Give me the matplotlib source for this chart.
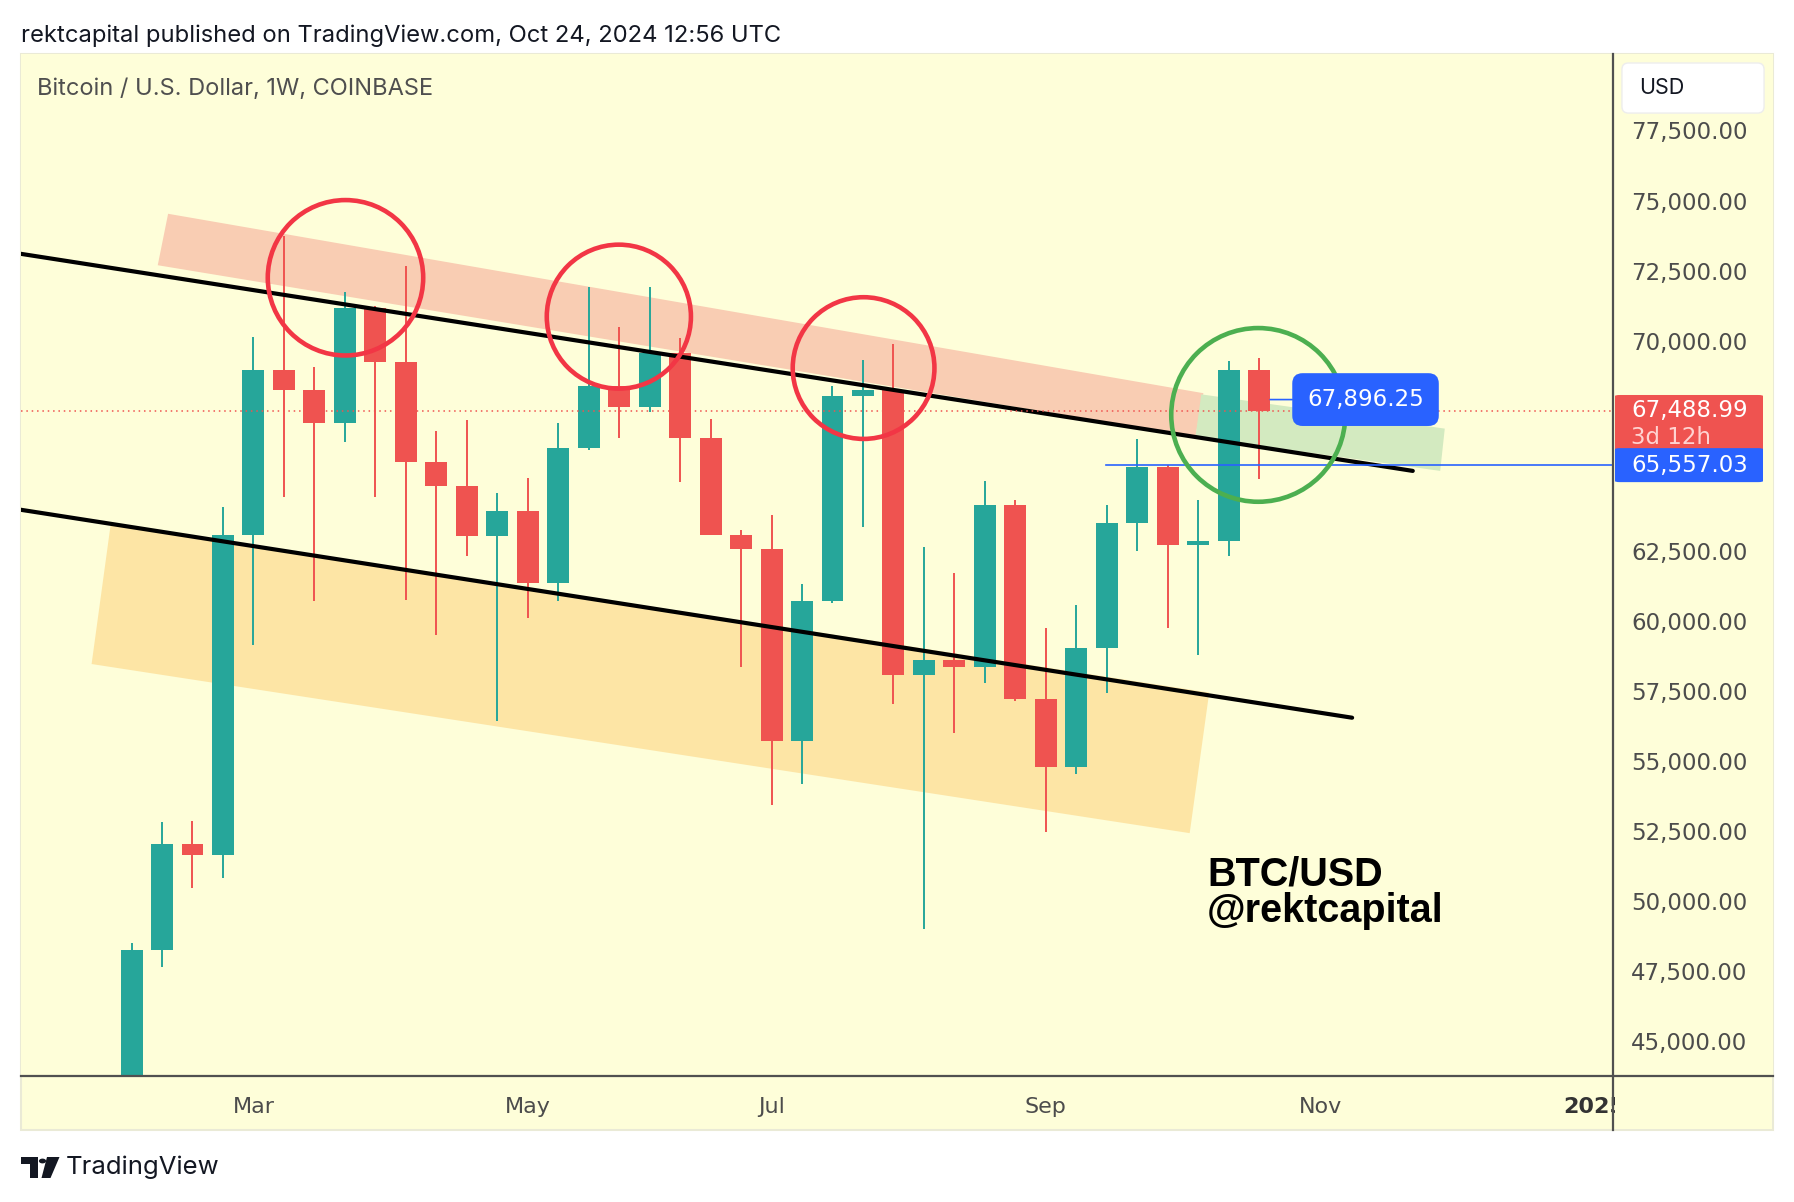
import numpy as np
import matplotlib.pyplot as plt
import matplotlib.transforms as mtransforms
from matplotlib.patches import Rectangle, Polygon, Ellipse, FancyBboxPatch, Circle
from matplotlib.lines import Line2D

W, H = 1794, 1202
BG = "#FEFED9"
UP = "#26A69A"
DOWN = "#EF5350"
BLUE = "#2962FF"

# weekly BTC/USD candles (Coinbase), week of 5 Feb 2024 .. week of 21 Oct 2024
opens = [42580, 48270, 52020, 51650, 63070, 68940, 68250, 67060, 71180, 69230,
         65680, 64820, 63030, 63920, 61360, 66170, 68370, 67640, 69550, 66530,
         63070, 62580, 55730, 60700, 68040, 68250, 58050, 58620, 58340, 64130,
         57200, 54790, 59030, 63480, 65480, 62700, 62850, 68940]
highs = [48500, 52830, 52870, 64050, 70120, 73750, 69060, 71750, 71250, 72650,
         66780, 67150, 64580, 65110, 67060, 71920, 70490, 71920, 70080, 67190,
         63230, 63760, 61310, 68370, 69310, 69880, 62620, 61720, 64980, 64330,
         59760, 60580, 64130, 66490, 65550, 64330, 69270, 69390]
lows = [42250, 47650, 50470, 50830, 59150, 64410, 60700, 66370, 64410, 60740,
        59480, 62330, 56420, 60090, 60700, 66090, 66530, 67470, 64940, 63050,
        58340, 53440, 54180, 60620, 63350, 57030, 49000, 56010, 57770, 57150,
        52470, 54540, 57440, 62500, 59760, 58790, 62330, 65070]
closes = [48270, 52020, 51650, 63070, 68940, 68250, 67060, 71180, 69230, 65680,
          64820, 63030, 63920, 61360, 66170, 68370, 67640, 69550, 66530, 63070,
          62580, 55730, 60700, 68040, 68250, 58050, 58620, 58340, 64130, 57200,
          54790, 59030, 63480, 65480, 62700, 62850, 68940, 67488.99]

month_pos = [4, 13, 21, 30, 39, 48]
month_labels = ["Mar", "May", "Jul", "Sep", "Nov", "2025"]
price_ticks = [45000, 47500, 50000, 52500, 55000, 57500, 60000, 62500,
               70000, 72500, 75000, 77500]

last_price = 67488.99
hline_price = 65557.03
hline_start = 31.98
callout_price = 67896.25
countdown = "3d 12h"

# drawings (x in weeks from 5 Feb, y in USD)
upper_line_x = [-3.64, 42.04]
upper_line_y = [73099, 65351]
lower_line_x = [-3.64, 40.05]
lower_line_y = [63965, 56543]
salmon_x = [1.20, 35.17, 34.91, 0.86]
salmon_y = [74527, 68124, 66574, 72691]
green_x = [35.10, 43.09, 42.94, 34.91]
green_y = [68083, 66860, 65351, 66574]
orange_x = [-0.68, 35.36, 34.72, -1.31]
orange_y = [63475, 57440, 52424, 58459]
circle_x = [7.02, 15.99, 24.02, 36.97]
circle_y = [72243, 70856, 69021, 67349]
circle_w = [5.10, 4.73, 4.65, 5.71]
circle_h = [5546, 5138, 5057, 6199]
circle_c = ["#F23645", "#F23645", "#F23645", "#4CAF50"]

XLIM = (-3.64, 48.61)
YLIM = (43775, 80236)


def fx(px):
    return px / W


def fy(py):
    return 1 - py / H


fig = plt.figure(figsize=(W / 100, H / 100), dpi=100, facecolor="white")

# chart panel background
fig.patches.append(Rectangle((fx(20.6), fy(1130)), fx(1773) - fx(20.6), fy(53.8) - fy(1130),
                             transform=fig.transFigure, fc=BG, ec="#EAEAD6", lw=1.5, zorder=-1))

ax = fig.add_axes([fx(20.6), fy(1075.5), fx(1613) - fx(20.6), fy(53.8) - fy(1075.5)])
ax.set_facecolor(BG)
for s in ax.spines.values():
    s.set_visible(False)

# zones
ax.add_patch(Polygon(np.column_stack([salmon_x, salmon_y]), closed=True, fc="#F9CDB3", ec="none", zorder=1))
ax.add_patch(Polygon(np.column_stack([green_x, green_y]), closed=True, fc="#D3EAC0", ec="none", zorder=1))
ax.add_patch(Polygon(np.column_stack([orange_x, orange_y]), closed=True, fc="#FDE5A5", ec="none", zorder=1))

# candles
o = np.array(opens)
c = np.array(closes)
hi = np.array(highs)
lo = np.array(lows)
xs = np.arange(len(o))
cols = np.where(c >= o, UP, DOWN)
ax.vlines(xs, lo, hi, colors=cols, lw=1.4, zorder=2)
body = np.maximum(np.abs(c - o), 60)
ax.bar(xs, body, bottom=np.minimum(o, c), width=0.72, color=cols, zorder=2)

# trend lines
ax.plot(upper_line_x, upper_line_y, color="black", lw=3, solid_capstyle="round", zorder=3)
ax.plot(lower_line_x, lower_line_y, color="black", lw=3, solid_capstyle="round", zorder=3)

# circles
for cx, cy, w, h, col in zip(circle_x, circle_y, circle_w, circle_h, circle_c):
    ax.add_patch(Ellipse((cx, cy), w, h, fill=False, ec=col, lw=3.3, zorder=4))

# price lines
ax.axhline(last_price, color=DOWN, ls=(0, (1, 2.5)), lw=1.1, zorder=3)
ax.plot([hline_start, XLIM[1]], [hline_price, hline_price], color=BLUE, lw=1.2, zorder=3)

# callout
ax.annotate(f"{callout_price:,.2f}", xy=(xs[-1] + 0.36, callout_price), xytext=(40.49, callout_price),
            ha="center", va="center", color="white", fontsize=16.5, family="DejaVu Sans",
            bbox=dict(boxstyle="round,pad=0.65,rounding_size=0.45", fc=BLUE, ec="none"),
            arrowprops=dict(arrowstyle="-", color=BLUE, lw=1.2, shrinkA=0, shrinkB=0), zorder=5)

ax.text(35.29, 50564, "BTC/USD", fontsize=28.5, fontweight="bold", family="Liberation Sans",
        va="baseline", ha="left", color="black", zorder=5)
ax.text(35.29, 49240, "@rektcapital", fontsize=28.5, fontweight="bold", family="Liberation Sans",
        va="baseline", ha="left", color="black", zorder=5)

ax.text(0.0105, 0.9655, "Bitcoin / U.S. Dollar, 1W, COINBASE", transform=ax.transAxes,
        fontsize=17, color="#4F4F4F", family="Inter", va="center", ha="left")

ax.set_xlim(*XLIM)
ax.set_ylim(*YLIM)
ax.set_yticks([])
ax.set_xticks(month_pos)
ax.set_xticklabels(month_labels)
ax.tick_params(axis="x", length=0, pad=15.5, labelsize=16, labelcolor="#4C4C4C")
for lbl in ax.get_xticklabels():
    lbl.set_family("DejaVu Sans")
ax.get_xticklabels()[-1].set_fontweight("bold")
ax.get_xticklabels()[-1].set_color("#333333")

# price scale
axp = fig.add_axes([fx(1613), fy(1075.5), fx(1773) - fx(1613), fy(53.8) - fy(1075.5)])
axp.set_facecolor(BG)
for s in axp.spines.values():
    s.set_visible(False)
axp.set_xlim(0, 1)
axp.set_ylim(*YLIM)
axp.set_xticks([])
axp.set_yticks(price_ticks)
axp.set_yticklabels([f"{v:,.2f}" for v in price_ticks])
axp.tick_params(axis="y", length=0, pad=-13, labelsize=16.5, labelcolor="#4C4C4C")
for lbl in axp.get_yticklabels():
    lbl.set_horizontalalignment("left")

blend = mtransforms.blended_transform_factory(axp.transAxes, axp.transData)
pu = (YLIM[1] - YLIM[0]) / (1075.5 - 53.8)  # USD per pixel
axp.add_patch(FancyBboxPatch((0.0125, last_price - 44 * pu), 0.925, 60 * pu, transform=blend,
                             boxstyle="round,pad=0,rounding_size=0.03", mutation_aspect=5 * pu / 0.03 * 0.2,
                             fc=DOWN, ec="none", zorder=3))
axp.add_patch(FancyBboxPatch((0.0125, hline_price - 17 * pu), 0.925, 34 * pu, transform=blend,
                             boxstyle="round,pad=0,rounding_size=0.03", mutation_aspect=5 * pu / 0.03 * 0.2,
                             fc=BLUE, ec="none", zorder=3))
axp.text(0.1125, last_price, f"{last_price:,.2f}", transform=blend, color="white", fontsize=16.5,
         family="DejaVu Sans", va="center", ha="left", zorder=4)
axp.text(0.1125, last_price - 27 * pu, countdown, transform=blend, color="#FFD3D1", fontsize=16.5,
         family="DejaVu Sans", va="center", ha="left", zorder=4)
axp.text(0.1125, hline_price, f"{hline_price:,.2f}", transform=blend, color="white", fontsize=16.5,
         family="DejaVu Sans", va="center", ha="left", zorder=4)

axp.add_patch(FancyBboxPatch((0.056, 0.942), 0.888, 0.049, transform=axp.transAxes,
                             boxstyle="round,pad=0,rounding_size=0.04", mutation_aspect=0.157,
                             fc="white", ec="#EDEDED", lw=1, zorder=3))
axp.text(0.165, 0.9665, "USD", transform=axp.transAxes, fontsize=15.5, color="#131722",
         family="Inter", va="center", ha="left", zorder=4)

# cover the overflow of the last time label beyond the price scale
fig.patches.append(Rectangle((fx(1614.5), fy(1129)), fx(1772) - fx(1614.5), fy(1077) - fy(1129),
                             transform=fig.transFigure, fc=BG, ec="none", zorder=2))

# axis frame lines
fig.add_artist(Line2D([fx(20.6), fx(1773)], [fy(1075.5), fy(1075.5)], transform=fig.transFigure,
                      color="#505050", lw=1.6, zorder=3))
fig.add_artist(Line2D([fx(1613), fx(1613)], [fy(53.8), fy(1130)], transform=fig.transFigure,
                      color="#505050", lw=1.6, zorder=3))

fig.text(fx(20.6), fy(35.5), "rektcapital published on TradingView.com, Oct 24, 2024 12:56 UTC",
         fontsize=17.1, color="#131722", family="Inter", va="center", ha="left")

# TradingView logo
logo = "#131722"
fig.patches.append(Rectangle((fx(20.6), fy(1164)), fx(37.5) - fx(20.6), fy(1157) - fy(1164),
                             transform=fig.transFigure, fc=logo, ec="none"))
fig.patches.append(Rectangle((fx(30), fy(1178)), fx(37.5) - fx(30), fy(1157) - fy(1178),
                             transform=fig.transFigure, fc=logo, ec="none"))
fig.patches.append(Circle((fx(42.5), fy(1161)), 3.6 / W, transform=fig.transFigure, fc=logo, ec="none"))
fig.patches.append(Polygon([(fx(47), fy(1157)), (fx(59.5), fy(1157)), (fx(50.5), fy(1178)), (fx(41.5), fy(1178))],
                           closed=True, transform=fig.transFigure, fc=logo, ec="none"))
fig.text(fx(66), fy(1167), "TradingView", fontsize=18.5, color=logo, family="Inter",
         va="center", ha="left")

fig.savefig("out.png", dpi=100, facecolor="white")
